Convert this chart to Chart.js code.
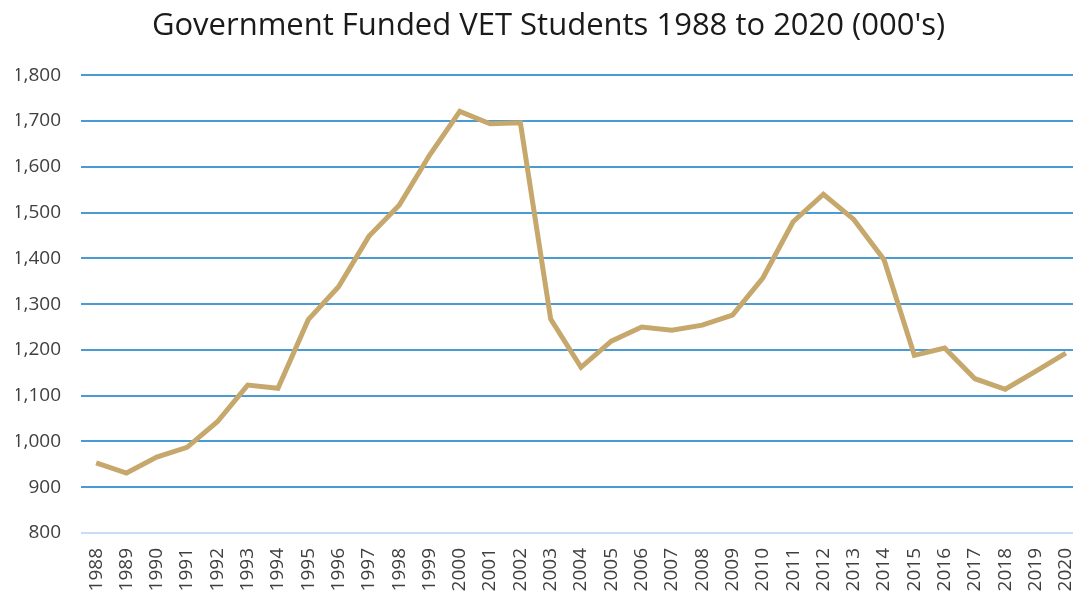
<!DOCTYPE html>
<html>
<head>
  <title>Government Funded VET Students 1988 to 2020</title>
  <script src="https://cdn.jsdelivr.net/npm/chart.js"></script>
  <style>
    html, body { margin: 0; padding: 0; background: #fff; overflow: hidden; }
    #wrap { position: absolute; left: 0; top: 0; width: 1073px; height: 594px; overflow: hidden; }
  </style>
</head>
<body>
  <div id="wrap">
    <canvas id="myChart" width="1081" height="594"></canvas>
  </div>
  <script>
// years on the x axis
const years = ['1988', '1989', '1990', '1991', '1992', '1993', '1994', '1995', '1996', '1997', '1998',
  '1999', '2000', '2001', '2002', '2003', '2004', '2005', '2006', '2007', '2008', '2009', '2010',
  '2011', '2012', '2013', '2014', '2015', '2016', '2017', '2018', '2019', '2020'];

// students, thousands
const students = [953, 931, 966, 987, 1043, 1123, 1116, 1266, 1338, 1448, 1516,
  1625, 1721, 1694, 1696, 1267, 1162, 1219, 1250, 1243, 1254, 1276, 1357,
  1480, 1540, 1485, 1397, 1188, 1204, 1137, 1114, 1153, 1193];

const yMin = 800;
const yMax = 1800;
const yStep = 100;

const ctx = document.getElementById('myChart').getContext('2d');
const myChart = new Chart(ctx, {
  type: 'line',
  data: {
    labels: years,
    datasets: [{
      label: 'Students',
      data: students,
      borderColor: '#c6a86c',
      borderWidth: 5,
      pointRadius: 0,
      tension: 0,
      fill: false
    }]
  },
  options: {
    responsive: false,
    animation: false,
    devicePixelRatio: 1,
    layout: { padding: { left: 16, right: 0, top: 0, bottom: 0 } },
    plugins: {
      legend: { display: false },
      tooltip: { enabled: false },
      title: {
        display: true,
        text: "Government Funded VET Students 1988 to 2020 (000's)",
        color: '#1a1a1a',
        font: { family: 'Open Sans', size: 31, weight: 'normal' },
        padding: { top: 8, bottom: 30 }
      }
    },
    scales: {
      x: {
        offset: true,
        grid: { display: false, drawTicks: false },
        border: { display: false },
        ticks: {
          color: '#404040',
          font: { family: 'Open Sans', size: 19 },
          minRotation: 90,
          maxRotation: 90,
          autoSkip: false,
          padding: 15
        },
        afterFit: (scale) => {
          scale.height = 61;
          // let the plot run to the canvas edge like the original
          scale.paddingLeft = 0;
          scale.paddingRight = 0;
        }
      },
      y: {
        min: yMin,
        max: yMax,
        border: { display: false },
        grid: {
          drawTicks: false,
          lineWidth: 2,
          color: (c) => c.tick && c.tick.value === yMin ? '#c8dcf6' : '#4a9ad4'
        },
        ticks: {
          stepSize: yStep,
          color: '#404040',
          font: { family: 'Open Sans', size: 19 },
          padding: 20,
          callback: (v) => v.toLocaleString('en-US')
        },
        afterFit: (scale) => { scale.width = 65; }
      }
    }
  }
});
  </script>
</body>
</html>
